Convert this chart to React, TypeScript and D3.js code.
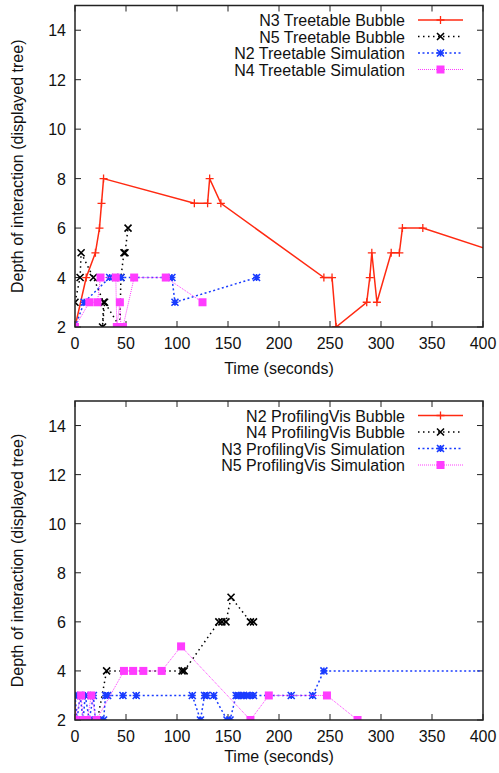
import React from 'react';
import * as d3 from 'd3';

// time (s), depth pairs
type Pt = [number, number];

const xTicks = [0, 50, 100, 150, 200, 250, 300, 350, 400];
const yTicks = [2, 4, 6, 8, 10, 12, 14];

// top panel: Treetable
const ttN3Bubble: Pt[] = [
  [0, 2], [11, 4], [20, 5], [24, 6], [26, 7], [28, 8], [117, 7], [130, 7], [132, 8],
  [143, 7], [244, 4], [252, 4], [256, 2], [286, 3], [289, 4], [291, 5], [296, 3],
  [310, 5], [318, 5], [321, 6], [341, 6], [415, 5],
];
const ttN5Bubble: Pt[] = [
  [0, 3], [5, 4], [6, 5], [18, 4], [28, 3], [27, 2], [29, 3], [44, 2], [45, 4],
  [48, 5], [49, 5], [52, 6],
];
const ttN2Sim: Pt[] = [
  [0, 2], [9, 3], [34, 4], [45, 4], [95, 4], [98, 3], [178, 4],
];
const ttN4Sim: Pt[] = [
  [0, 2], [14, 3], [22, 3], [25, 4], [40, 4], [41, 2], [44, 3], [45, 2], [47, 2],
  [58, 4], [89, 4], [125, 3],
];

// bottom panel: ProfilingVis
const pvN2Bubble: Pt[] = [[0, 3], [0, 2]];
const pvN4Bubble: Pt[] = [
  [0, 2], [16, 2], [22, 2], [31, 4], [105, 4], [107, 4], [141, 6], [144, 6],
  [148, 6], [153, 7], [172, 6], [175, 6],
];
const pvN3Sim: Pt[] = [
  [0, 3], [2, 2], [5, 3], [8, 2], [10, 3], [14, 2], [18, 3], [20, 2], [24, 2],
  [28, 2], [30, 3], [32, 3], [47, 3], [60, 3], [115, 3], [123, 2], [127, 3],
  [129, 3], [136, 3], [149, 2], [152, 2], [158, 3], [160, 3], [163, 3], [165, 3],
  [168, 3], [171, 3], [175, 3], [212, 3], [233, 3], [244, 4], [480, 4],
];
const pvN5Sim: Pt[] = [
  [0, 2], [6, 3], [8, 2], [12, 2], [16, 3], [21, 2], [48, 4], [57, 4], [67, 4],
  [85, 4], [104, 5], [172, 2], [190, 3], [247, 3], [277, 2],
];

const FONT = '"Liberation Sans", Arial, Helvetica, sans-serif';

type Style = { color: string; dash?: string; width: number; marker: string };
const STYLES: Style[] = [
  { color: '#ff2a12', width: 1.5, marker: 'plus' },
  { color: '#000000', dash: '1.5,3.5', width: 1.5, marker: 'cross' },
  { color: '#1a3cff', dash: '2,2.5', width: 1.5, marker: 'star' },
  { color: '#ff3cff', dash: '1,1', width: 1, marker: 'square' },
];

function markerPath(kind: string, s: number) {
  const plus = `M${-s},0H${s}M0,${-s}V${s}`;
  const cross = `M${-s},${-s}L${s},${s}M${-s},${s}L${s},${-s}`;
  if (kind === 'plus') return plus;
  if (kind === 'cross') return cross;
  return plus + cross;
}

function Marker({ kind, x, y, color }: { kind: string; x: number; y: number; color: string }) {
  if (kind === 'square') {
    return <rect x={x - 4} y={y - 4} width={8} height={8} fill={color} />;
  }
  const s = kind === 'plus' ? 4 : 3.5;
  return (
    <path
      d={markerPath(kind, s)}
      transform={`translate(${x},${y})`}
      stroke={color}
      strokeWidth={kind === 'plus' ? 1.3 : 1.6}
      fill="none"
    />
  );
}

function Panel({ id, top, bottom, labelGap, series, labels }: {
  id: string; top: number; bottom: number; labelGap: number; series: Pt[][]; labels: string[];
}) {
  const left = 75, right = 483;
  const x = d3.scaleLinear().domain([0, 400]).range([left, right]);
  const y = d3.scaleLinear().domain([2, 15]).range([bottom, top]);
  const line = d3.line<Pt>().x(d => x(d[0])).y(d => y(d[1]));
  const tick = 6;
  const legX = 405, legY0 = top + 14.5, legDy = 16.5;

  return (
    <g>
      <defs>
        <clipPath id={id}>
          <rect x={left} y={top} width={right - left} height={bottom - top} />
        </clipPath>
      </defs>

      {/* ticks, mirrored on all sides */}
      {xTicks.map(t => (
        <g key={'x' + t}>
          <line x1={x(t)} x2={x(t)} y1={bottom} y2={bottom - tick} stroke="#222" />
          <line x1={x(t)} x2={x(t)} y1={top} y2={top + tick} stroke="#222" />
          <text x={x(t)} y={bottom + 22} textAnchor="middle" fontSize={16} fontFamily={FONT} fill="#111">{t}</text>
        </g>
      ))}
      {yTicks.map(t => (
        <g key={'y' + t}>
          <line x1={left} x2={left + tick} y1={y(t)} y2={y(t)} stroke="#222" />
          <line x1={right} x2={right - tick} y1={y(t)} y2={y(t)} stroke="#222" />
          <text x={66} y={y(t) + 6} textAnchor="end" fontSize={16} fontFamily={FONT} fill="#111">{t}</text>
        </g>
      ))}

      <g clipPath={`url(#${id})`}>
        {series.map((pts, i) => {
          const st = STYLES[i];
          return (
            <g key={i}>
              <path d={line(pts) || ''} fill="none" stroke={st.color} strokeWidth={st.width}
                strokeDasharray={st.dash} />
              {pts.map((p, j) => (
                <Marker key={j} kind={st.marker} x={x(p[0])} y={y(p[1])} color={st.color} />
              ))}
            </g>
          );
        })}
      </g>

      {/* legend */}
      {labels.map((lab, i) => {
        const st = STYLES[i];
        const ly = legY0 + i * legDy;
        return (
          <g key={lab}>
            <text x={legX} y={ly + 6} textAnchor="end" fontSize={16} fontFamily={FONT} fill="#111">{lab}</text>
            <line x1={418} x2={463} y1={ly} y2={ly} stroke={st.color} strokeWidth={st.width}
              strokeDasharray={st.dash} />
            <Marker kind={st.marker} x={440.5} y={ly} color={st.color} />
          </g>
        );
      })}

      <rect x={left} y={top} width={right - left} height={bottom - top} fill="none" stroke="#222" strokeWidth={1.5} />

      <text x={(left + right) / 2} y={bottom + labelGap} textAnchor="middle" fontSize={16} fontFamily={FONT} fill="#111">
        Time (seconds)
      </text>
      <text transform={`translate(23,${(top + bottom) / 2}) rotate(-90)`} textAnchor="middle" fontSize={16}
        fontFamily={FONT} fill="#111">
        Depth of interaction (displayed tree)
      </text>
    </g>
  );
}

export default function App() {
  return (
    <svg width={499} height={773} style={{ position: 'absolute', left: 0, top: 0, background: '#fff' }}>
      <Panel id="clipTop" top={5.5} bottom={327} labelGap={47} series={[ttN3Bubble, ttN5Bubble, ttN2Sim, ttN4Sim]}
        labels={['N3 Treetable Bubble', 'N5 Treetable Bubble', 'N2 Treetable Simulation', 'N4 Treetable Simulation']} />
      <Panel id="clipBot" top={401} bottom={720} labelGap={42} series={[pvN2Bubble, pvN4Bubble, pvN3Sim, pvN5Sim]}
        labels={['N2 ProfilingVis Bubble', 'N4 ProfilingVis Bubble', 'N3 ProfilingVis Simulation', 'N5 ProfilingVis Simulation']} />
    </svg>
  );
}
